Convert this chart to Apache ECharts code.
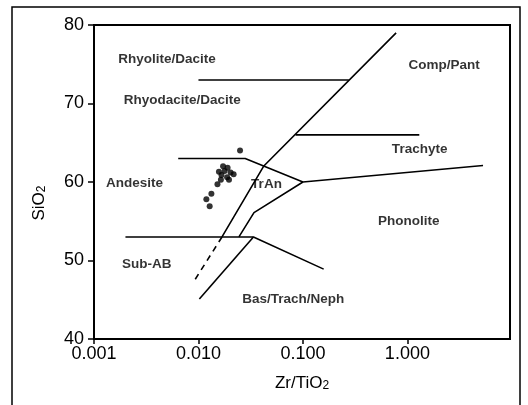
<!DOCTYPE html>
<html><head><meta charset="utf-8">
<script src="https://cdn.jsdelivr.net/npm/echarts@6/dist/echarts.min.js"></script>
<style>html,body{margin:0;padding:0;background:#fff}#c{width:528px;height:405px}</style>
</head><body><div id="c"></div>
<script>
// Axis ticks (log axis, one per decade) and their labels
const xTicks = [0.001, 0.01, 0.1, 1];
const xTickLabels = ['0.001', '0.010', '0.100', '1.000'];

// Sample data: Zr/TiO2 and SiO2
const sampleZr = [0.025, 0.0172, 0.019, 0.0157, 0.0178, 0.0203, 0.0217, 0.0166, 0.0188, 0.0196, 0.0164, 0.0152, 0.0133, 0.0119, 0.0128];
const sampleSi = [64.0, 62.0, 61.8, 61.3, 61.4, 61.2, 61.0, 60.9, 60.6, 60.3, 60.3, 59.7, 58.5, 57.8, 56.9];

// Field boundary lines [Zr/TiO2, SiO2]
const lineRhyolite = [[0.01, 73], [0.275, 73]];
const lineMain = [[0.0168, 53], [0.042, 62], [0.78, 79]];
const lineMainDashed = [[0.0168, 53], [0.009, 47.3]];
const lineTrachyteTop = [[0.085, 66], [1.3, 66]];
const lineTrAnTop = [[0.0064, 63], [0.028, 63], [0.1, 60]];
const linePhonolite = [[0.1, 60], [5.3, 62.1]];
const lineTrAnBottom = [[0.1, 60], [0.034, 56.1], [0.0244, 53]];
const lineSubAB = [[0.002, 53], [0.0336, 53], [0.158, 48.9]];
const lineBas = [[0.0102, 45.1], [0.0336, 53]];

// Field names and their label positions
const fieldNames = ['Rhyolite/Dacite', 'Rhyodacite/Dacite', 'Comp/Pant', 'Trachyte', 'Andesite', 'TrAn', 'Phonolite', 'Sub-AB', 'Bas/Trach/Neph'];
const fieldX = [0.005, 0.0070, 2.25, 1.31, 0.00244, 0.0448, 1.03, 0.0032, 0.0807];
const fieldY = [75.6, 70.45, 74.87, 64.17, 59.83, 59.7, 54.94, 49.5, 45.06];

const FONT = '"Liberation Sans", Arial, Helvetica, sans-serif';

function boundary(data, dashed) {
  return {
    type: 'line', data: data, symbol: 'none', silent: true, animation: false,
    lineStyle: { color: '#000', width: 1.6, type: dashed ? [6, 5] : 'solid' },
    z: 3
  };
}

function tickLabel(v) {
  for (let i = 0; i < xTicks.length; i++) {
    if (Math.abs(Math.log10(v) - Math.log10(xTicks[i])) < 1e-6) return xTickLabels[i];
  }
  return '';
}

const chart = echarts.init(document.getElementById('c'));
chart.setOption({
  animation: false,
  backgroundColor: '#fff',
  textStyle: { fontFamily: FONT },
  grid: { left: 94, top: 25, right: 18, bottom: 66, show: true, borderColor: '#000', borderWidth: 2 },
  xAxis: {
    type: 'log', logBase: 10, min: 0.001, max: 9.6,
    name: 'Zr/TiO{s|2}', nameLocation: 'middle', nameGap: 36,
    nameTextStyle: { color: '#000', fontSize: 17, fontFamily: FONT,
      rich: { s: { fontSize: 12, verticalAlign: 'bottom', color: '#000', fontFamily: FONT } } },
    axisLine: { show: true, lineStyle: { color: '#000', width: 2 } },
    axisTick: { show: true, inside: false, length: 5, customValues: xTicks, lineStyle: { color: '#000', width: 1.5 } },
    minorTick: { show: false },
    splitLine: { show: false },
    axisLabel: { color: '#000', fontSize: 18, fontFamily: FONT, margin: 6, customValues: xTicks,
      formatter: tickLabel }
  },
  yAxis: {
    type: 'value', min: 40, max: 80, interval: 10,
    name: 'SiO{s|2}', nameLocation: 'middle', nameGap: 46,
    nameTextStyle: { color: '#000', fontSize: 17, fontFamily: FONT, padding: [0, 42, 0, 0],
      rich: { s: { fontSize: 12, verticalAlign: 'bottom', color: '#000', fontFamily: FONT } } },
    axisLine: { show: true, lineStyle: { color: '#000', width: 2 } },
    axisTick: { show: true, inside: false, length: 6, lineStyle: { color: '#000', width: 1.5 } },
    splitLine: { show: false },
    axisLabel: { color: '#000', fontSize: 18, fontFamily: FONT, margin: 10 }
  },
  graphic: [{
    type: 'rect', shape: { x: 12, y: 7, width: 508, height: 420 },
    style: { fill: 'none', stroke: '#000', lineWidth: 1.5 }, silent: true, z: 0
  }],
  series: [
    boundary(lineRhyolite),
    boundary(lineMain),
    boundary(lineMainDashed, true),
    boundary(lineTrachyteTop),
    boundary(lineTrAnTop),
    boundary(linePhonolite),
    boundary(lineTrAnBottom),
    boundary(lineSubAB),
    boundary(lineBas),
    {
      type: 'scatter', name: 'Samples', symbol: 'circle', symbolSize: 6,
      itemStyle: { color: '#000' }, z: 5,
      data: sampleZr.map(function (x, i) { return [x, sampleSi[i]]; })
    },
    {
      type: 'scatter', name: 'Fields', symbolSize: 1, silent: true, z: 4,
      itemStyle: { color: 'rgba(0,0,0,0)' },
      label: { show: true, position: 'inside', color: '#000', fontSize: 13.5, fontWeight: 'bold', fontFamily: FONT,
        formatter: function (p) { return p.name; } },
      data: fieldNames.map(function (n, i) { return { name: n, value: [fieldX[i], fieldY[i]] }; })
    }
  ]
});
</script></body></html>
